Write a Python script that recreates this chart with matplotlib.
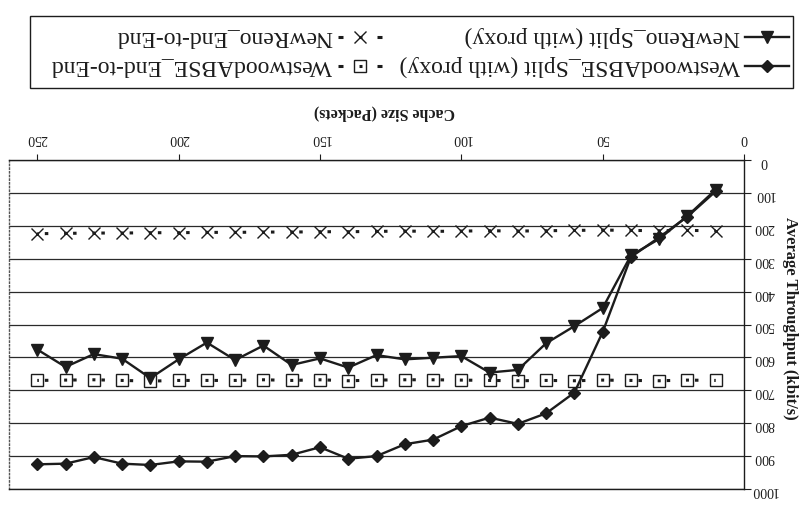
import matplotlib
matplotlib.use('Agg')
import matplotlib.pyplot as plt
from matplotlib.lines import Line2D
from matplotlib.patches import Rectangle

# the scanned figure is upside down, so everything is drawn turned by 180 degrees

cache_size = [10, 20, 30, 40, 50, 60, 70, 80, 90, 100, 110, 120, 130,
              140, 150, 160, 170, 180, 190, 200, 210, 220, 230, 240, 250]

westwood_split = [95, 172, 235, 295, 523, 707, 770, 802, 783, 809, 850, 864, 900,
                  908, 873, 896, 901, 900, 917, 916, 927, 923, 903, 923, 925]
newreno_split = [90, 170, 240, 290, 450, 505, 557, 638, 646, 596, 601, 606, 593,
                 631, 603, 623, 564, 608, 555, 606, 663, 604, 590, 629, 576]
westwood_e2e = [670, 669, 671, 670, 669, 671, 670, 671, 670, 669, 668, 668, 669,
                671, 668, 670, 668, 670, 670, 670, 672, 670, 668, 669, 670]
newreno_e2e = [215, 214, 215, 214, 213, 214, 215, 216, 215, 216, 217, 216, 217,
               218, 218, 219, 219, 220, 220, 221, 221, 222, 222, 223, 224]

x_ticks = [0, 50, 100, 150, 200, 250]
y_ticks = [0, 100, 200, 300, 400, 500, 600, 700, 800, 900, 1000]

labels = {
    'ws': 'WestwoodABSE_Split (with proxy)',
    'we': 'WestwoodABSE_End-to-End',
    'ns': 'NewReno_Split (with proxy)',
    'ne': 'NewReno_End-to-End',
}

plt.rcParams['font.family'] = ['Liberation Serif', 'DejaVu Serif']
plt.rcParams['lines.scale_dashes'] = False

ink = '#1c1c1c'
W, H = 800, 505
fig = plt.figure(figsize=(8, 5.05), dpi=100)
fig.patch.set_facecolor('white')

def fx(px):
    return px / W

def fy(py):
    return 1 - py / H

# plot box, picture pixels
box_l, box_r, box_t, box_b = 9, 744, 160, 489
ax = fig.add_axes([fx(box_l), fy(box_b), (box_r - box_l) / W, (box_b - box_t) / H])
ax.set_xlim(260, 0)
ax.set_ylim(1000, 0)
ax.set_facecolor('none')

ax.xaxis.tick_top()
ax.yaxis.tick_right()
ax.set_xticks(x_ticks)
ax.set_yticks(y_ticks)
ax.tick_params(axis='x', direction='out', length=4, width=0.8, pad=7,
               labelsize=10, labelrotation=180, colors=ink)
ax.tick_params(axis='y', direction='out', length=5, width=0.8, pad=9.5,
               labelsize=10, labelrotation=180, colors=ink)
for t in ax.get_yticklabels():
    t.set_horizontalalignment('center')

ax.yaxis.grid(True, color='#2a2a2a', lw=0.9)
ax.set_axisbelow(True)
for s in ['top', 'right', 'bottom']:
    ax.spines[s].set_color(ink)
    ax.spines[s].set_linewidth(1.0)
ax.spines['left'].set_color('#555555')
ax.spines['left'].set_linestyle(':')
ax.spines['left'].set_linewidth(1.0)

# dotted look of the end-to-end curves: a dot inside each marker, a dash beside it
step_px = (box_r - box_l) * (cache_size[1] - cache_size[0]) / 260.0
k = 0.72
dash_style = (1.5 * k, (3 * k, (step_px - 12.5) * k, 3.5 * k, 6 * k))

ax.plot(cache_size, westwood_split, color=ink, lw=1.7, marker='D', ms=5.8, zorder=5)
ax.plot(cache_size, newreno_split, color=ink, lw=1.7, marker='v', ms=8, zorder=5)
ax.plot(cache_size, westwood_e2e, color=ink, lw=2.2, ls=dash_style,
        marker='s', ms=8.5, mfc='none', mew=1.0, zorder=4)
ax.plot(cache_size, newreno_e2e, color=ink, lw=2.2, ls=dash_style,
        marker='x', ms=8.5, mew=1.0, zorder=4)

# axis titles
fig.text(fx(384), fy(113), 'Cache Size (Packets)', rotation=180, ha='center', va='center',
         fontsize=11.5, fontweight='bold', color=ink)
fig.text(fx(790), fy(318), 'Average Throughput (kbit/s)', rotation=270, ha='center',
         va='center', fontsize=12, fontweight='bold', color=ink)

# legend, built by hand so that it reads upside down too
fig.patches.append(Rectangle((fx(30), fy(88)), (793 - 30) / W, (88 - 16) / H,
                             transform=fig.transFigure, fill=False, ec=ink, lw=1.0))

def solid_handle(cx, y, marker, ms):
    fig.add_artist(Line2D([fx(cx - 22), fx(cx + 22)], [fy(y), fy(y)], color=ink, lw=1.7,
                          marker=None, transform=fig.transFigure))
    fig.add_artist(Line2D([fx(cx)], [fy(y)], color=ink, marker=marker, ms=ms,
                          transform=fig.transFigure))

def dotted_handle(cx, y, marker, ms, mfc):
    for a, b in [(-22, -17), (-1.5, 1.5), (17, 22)]:
        fig.add_artist(Line2D([fx(cx + a), fx(cx + b)], [fy(y), fy(y)], color=ink, lw=2.2,
                              solid_capstyle='butt', transform=fig.transFigure))
    fig.add_artist(Line2D([fx(cx)], [fy(y)], color=ink, marker=marker, ms=ms, mfc=mfc,
                          mew=1.0, transform=fig.transFigure))

row_top, row_bot = 37, 66
solid_handle(767, row_top, 'v', 8)
solid_handle(767, row_bot, 'D', 5.8)
dotted_handle(360, row_top, 'x', 8.5, ink)
dotted_handle(360, row_bot, 's', 8.5, 'none')

for x_right, y, key in [(740, row_top, 'ns'), (740, row_bot, 'ws'),
                        (332, row_top, 'ne'), (332, row_bot, 'we')]:
    fig.text(fx(x_right), fy(y), labels[key], rotation=180, ha='right', va='center',
             fontsize=17, color=ink)

fig.savefig('out.png', dpi=100)
